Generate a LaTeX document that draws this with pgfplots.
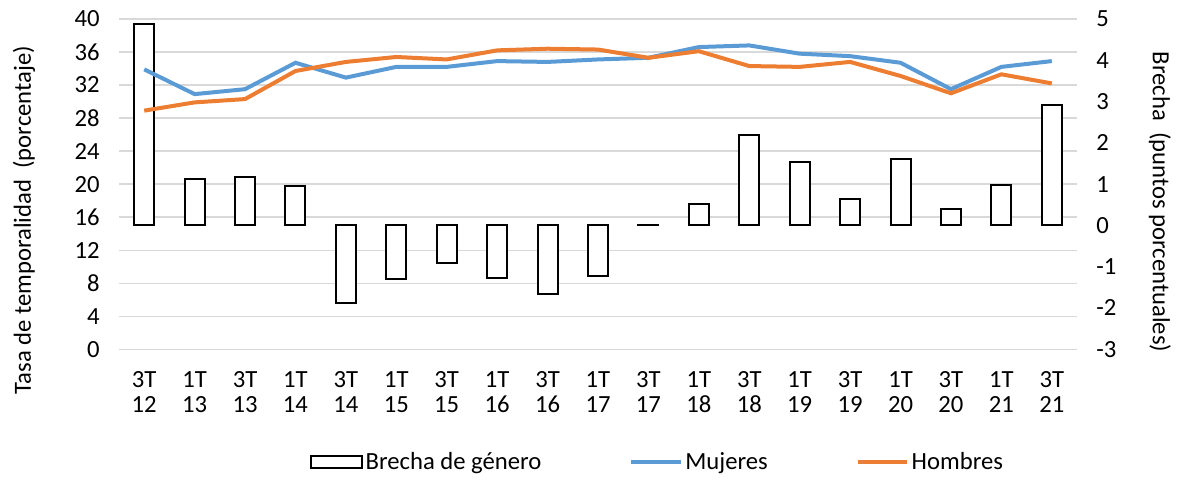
\documentclass[border=0pt]{standalone}
\usepackage{fontspec}
\setmainfont{Carlito}
\usepackage{pgfplots}
\pgfplotsset{compat=1.18}
\definecolor{mblue}{HTML}{5B9BD5}
\definecolor{horange}{HTML}{ED7D31}
\definecolor{gridgray}{HTML}{D9D9D9}

\pgfplotstableread{
x gap mujeres hombres
0 4.89 33.9 28.9
1 1.12 30.9 29.9
2 1.18 31.5 30.3
3 0.96 34.7 33.7
4 -1.87 32.9 34.8
5 -1.31 34.2 35.4
6 -0.92 34.2 35.1
7 -1.28 34.9 36.2
8 -1.66 34.8 36.4
9 -1.22 35.1 36.3
10 0.02 35.3 35.3
11 0.53 36.6 36.1
12 2.20 36.8 34.3
13 1.54 35.8 34.2
14 0.65 35.5 34.8
15 1.60 34.7 33.1
16 0.40 31.5 31.0
17 0.99 34.2 33.3
18 2.91 34.9 32.2
}\datatable

\newcommand{\chfont}{\fontsize{18.5}{18.75}\selectfont}

\begin{document}
\begin{tikzpicture}[font=\chfont]
\pgfplotsset{
  base/.style={
    scale only axis, width=718.5pt, height=247.7pt,
    xmin=-0.5, xmax=18.5,
    axis line style={draw=none},
    major tick length=0pt,
    /pgf/number format/assume math mode=true,
    tick label style={font=\chfont},
    label style={font=\chfont},
  }
}
% axis 0: grid, left ticks, x labels
\begin{axis}[base, name=ax0,
  ymin=0, ymax=40, ytick={0,4,...,40},
  ymajorgrids, grid style={gridgray, line width=1pt},
  xtick={0,...,18},
  xticklabels={{3T\\12},{1T\\13},{3T\\13},{1T\\14},{3T\\14},{1T\\15},{3T\\15},{1T\\16},{3T\\16},{1T\\17},{3T\\17},{1T\\18},{3T\\18},{1T\\19},{3T\\19},{1T\\20},{3T\\20},{1T\\21},{3T\\21}},
  xticklabel style={align=center, yshift=-13.5pt},
  yticklabel style={xshift=-11pt},
  every axis y label/.style={at={(rel axis cs:0,0.391)}, xshift=-71.25pt, rotate=90, anchor=center},
  ylabel={Tasa de temporalidad\ \ (porcentaje)},
]
\addplot[draw=none] coordinates {(0,0)};
\end{axis}
% axis 1: bars, right scale
\begin{axis}[base,
  ymin=-3, ymax=5, ytick={-3,...,5},
  yticklabel pos=right,
  xtick=\empty,
  yticklabel style={xshift=11pt},
  every axis y label/.style={at={(rel axis cs:1,0.446)}, xshift=62.25pt, rotate=-90, anchor=center},
  ylabel={Brecha\ \ (puntos porcentuales)},
]
\addplot[ybar, bar width=15pt, draw=black, fill=white, line width=1.5pt] table[x=x, y=gap] {\datatable};
\end{axis}
% axis 2: lines, left scale
\begin{axis}[base,
  ymin=0, ymax=40, xtick=\empty, ytick=\empty,
  legend style={at={(0.5626,-0.3412)}, anchor=center, draw=none, fill=none,
    legend columns=3, font=\chfont,
    /tikz/every even column/.append style={column sep=64pt},
    legend cell align=left},
]
\addlegendimage{legend image code/.code={\draw[black, line width=1.5pt, fill=white] (0pt,-4.5pt) rectangle (38pt,4.5pt);}}
\addlegendentry{Brecha de género}
\addplot[mblue, line width=3pt, legend image code/.code={\draw[mblue, line width=3pt] (0pt,0pt) -- (37pt,0pt);}] table[x=x, y=mujeres] {\datatable};
\addlegendentry{Mujeres}
\addplot[horange, line width=3pt, legend image code/.code={\draw[horange, line width=3pt] (0pt,0pt) -- (37pt,0pt);}] table[x=x, y=hombres] {\datatable};
\addlegendentry{Hombres}
\end{axis}
\pgfresetboundingbox
\path ([shift={(-89.25pt,-98pt)}]ax0.south west) rectangle ([shift={(75.75pt,14.25pt)}]ax0.north east);
\end{tikzpicture}
\end{document}
